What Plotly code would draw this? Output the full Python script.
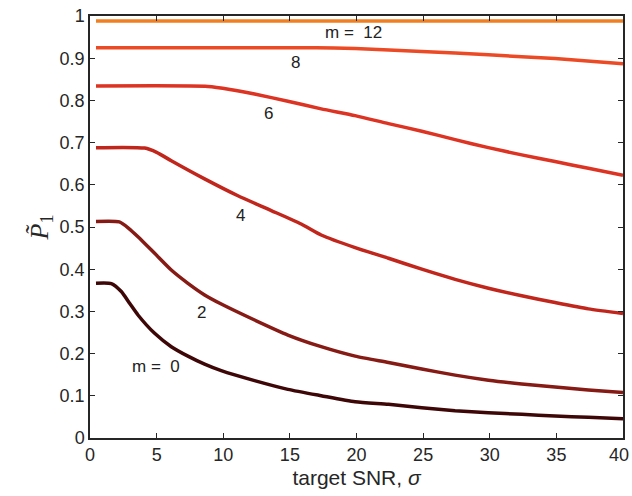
import plotly.graph_objects as go

# ---- data ----
x_m0 = [0.45, 1.6, 2.35, 3.0, 3.6, 4.85, 6.1, 7.35, 8.6, 9.85, 12.35, 14.85, 17.35, 19.9, 22.4, 24.9, 27.4, 29.9, 32.4, 34.9, 37.4, 40]
y_m0 = [0.367, 0.366, 0.347, 0.318, 0.2915, 0.248, 0.2164, 0.194, 0.175, 0.1596, 0.136, 0.1153, 0.1003, 0.086, 0.080, 0.0719, 0.0648, 0.060, 0.056, 0.052, 0.049, 0.0458]

x_m2 = [0.45, 2.2, 2.9, 3.6, 4.85, 6.1, 7.35, 8.6, 9.85, 12.35, 14.85, 17.35, 19.9, 22.4, 24.9, 27.4, 29.9, 32.4, 34.9, 37.4, 40]
y_m2 = [0.513, 0.512, 0.497, 0.477, 0.4376, 0.398, 0.3665, 0.339, 0.3175, 0.2796, 0.244, 0.2164, 0.194, 0.179, 0.1635, 0.149, 0.137, 0.128, 0.1206, 0.1137, 0.108]

x_m4 = [0.45, 4.1, 5.0, 6.1, 8.6, 11.1, 13.6, 15.85, 17.35, 19.9, 22.4, 24.9, 27.4, 29.9, 32.4, 34.9, 37.4, 40]
y_m4 = [0.688, 0.687, 0.677, 0.657, 0.614, 0.574, 0.539, 0.507, 0.481, 0.451, 0.426, 0.400, 0.376, 0.355, 0.337, 0.321, 0.306, 0.295]

x_m6 = [0.45, 8.85, 10.5, 12.35, 14.85, 17.35, 19.9, 22.4, 24.9, 27.4, 29.9, 32.4, 34.9, 37.4, 40]
y_m6 = [0.834, 0.833, 0.826, 0.815, 0.798, 0.780, 0.764, 0.745, 0.727, 0.707, 0.688, 0.671, 0.655, 0.639, 0.6225]

x_m8 = [0.45, 17.0, 19.9, 24.9, 29.9, 34.9, 40]
y_m8 = [0.925, 0.925, 0.923, 0.916, 0.908, 0.899, 0.887]

x_m12 = [0.45, 40]
y_m12 = [0.988, 0.988]

series_names = ["m = 0", "m = 2", "m = 4", "m = 6", "m = 8", "m = 12"]
series_x = [x_m0, x_m2, x_m4, x_m6, x_m8, x_m12]
series_y = [y_m0, y_m2, y_m4, y_m6, y_m8, y_m12]
series_colors = ["#3e0707", "#861a14", "#c0261c", "#dc3322", "#eb4a25", "#f07f22"]

label_texts = ["m =  0", "2", "4", "6", "8", "m =  12"]
label_x = [4.95, 8.35, 11.3, 13.4, 15.4, 19.8]
label_y = [0.169, 0.297, 0.528, 0.770, 0.889, 0.960]

x_tick_vals = [0, 5, 10, 15, 20, 25, 30, 35, 40]
x_tick_text = ["0", "5", "10", "15", "20", "25", "30", "35", "40"]

fig = go.Figure()
for nm, xs, ys, c in zip(series_names, series_x, series_y, series_colors):
    fig.add_trace(go.Scatter(x=xs, y=ys, mode="lines", name=nm,
                             line=dict(color=c, width=3.5, shape="spline", smoothing=0.6),
                             showlegend=False))

for t, lx, ly in zip(label_texts, label_x, label_y):
    fig.add_annotation(x=lx, y=ly, text=t, showarrow=False,
                       font=dict(family="Liberation Sans, Arial", size=17, color="#222222"))

tick_font = dict(family="Liberation Sans, Arial", size=18, color="#262626")

# the last x tick label sits flush with the right edge (as in the reference): draw it
# as an annotation nudged slightly left so it is not clipped
fig.add_annotation(x=x_tick_vals[-1], xref="x", y=0, yref="paper", yanchor="top",
                   text=x_tick_text[-1], showarrow=False, xshift=-4, yshift=-5,
                   font=tick_font)
shown_tick_text = x_tick_text[:-1] + [""]

axis_common = dict(showgrid=False, zeroline=False, showline=True, linecolor="#262626",
                   linewidth=1.5, mirror="allticks", ticks="inside", ticklen=5,
                   tickcolor="#262626", tickwidth=1, automargin=False,
                   ticklabeloverflow="allow", tickfont=tick_font)

fig.update_xaxes(range=[0, 40], tickmode="array", tickvals=x_tick_vals, ticktext=shown_tick_text,
                 title=dict(text="target SNR, <i>σ</i>", standoff=6,
                            font=dict(family="Liberation Sans, Arial", size=21, color="#262626")),
                 **axis_common)
fig.update_yaxes(range=[0, 1], dtick=0.1, tick0=0,
                 title=dict(text="<i>P̃</i><sub>1</sub>", standoff=4,
                            font=dict(family="Liberation Serif, DejaVu Serif", size=26, color="#262626")),
                 **axis_common)

fig.update_layout(width=632, height=496, margin=dict(l=90, r=9, t=16, b=58),
                  plot_bgcolor="white", paper_bgcolor="white")

fig.write_html("out.html", config={"displayModeBar": False},
               post_script="document.body.style.margin='0px';document.body.style.overflow='hidden';")
